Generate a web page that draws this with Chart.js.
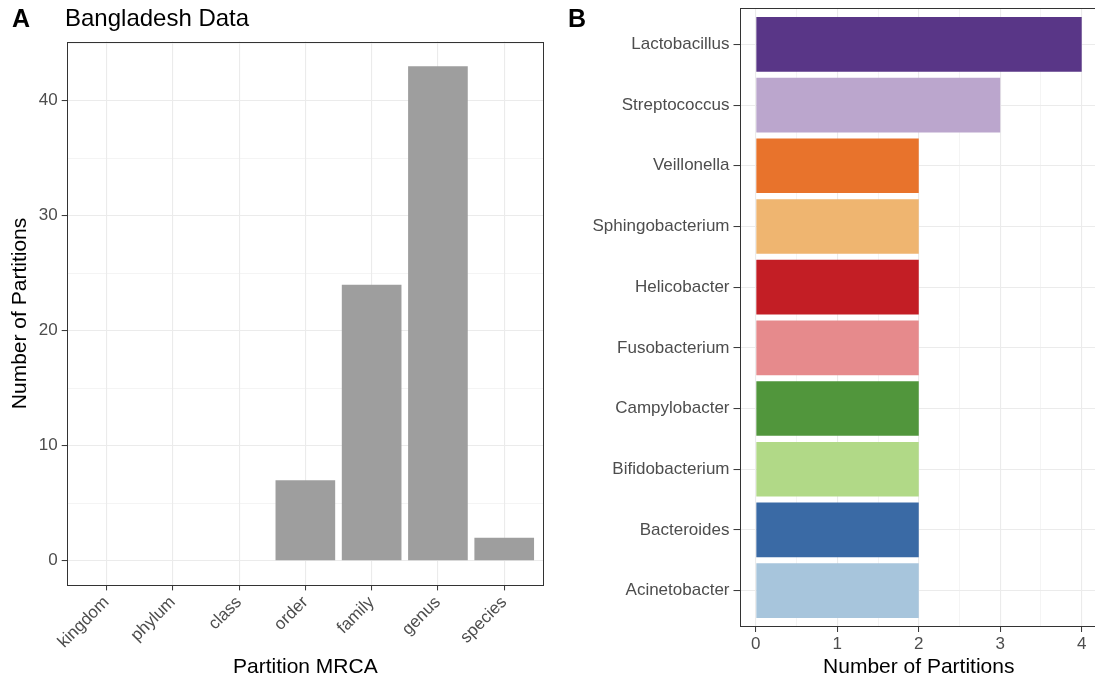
<!DOCTYPE html>
<html>
<head>
<meta charset="utf-8">
<script src="https://cdn.jsdelivr.net/npm/chart.js@4.4.1/dist/chart.umd.min.js"></script>
<style>
  html, body { margin: 0; padding: 0; background: #fff; overflow: hidden; width: 1095px; height: 681px; }
  .panel { position: absolute; top: 0; height: 681px; }
  #panelA { left: 0; width: 560px; }
  #panelB { left: 560px; width: 545px; }
  canvas { display: block; }
</style>
</head>
<body>
<div class="panel" id="panelA"><canvas id="chartA" width="560" height="681"></canvas></div>
<div class="panel" id="panelB"><canvas id="chartB" width="545" height="681"></canvas></div>
<script>
// Panel A: partitions by taxonomic rank of their MRCA
const mrcaLevels = ['kingdom', 'phylum', 'class', 'order', 'family', 'genus', 'species'];
const mrcaCounts = [0, 0, 0, 7, 24, 43, 2];
const countTicksA = [0, 10, 20, 30, 40];
const countMinorA = [5, 15, 25, 35, 45];

// Panel B: partitions per genus
const genera = ['Lactobacillus', 'Streptococcus', 'Veillonella', 'Sphingobacterium', 'Helicobacter',
                'Fusobacterium', 'Campylobacter', 'Bifidobacterium', 'Bacteroides', 'Acinetobacter'];
const genusCounts = [4, 3, 2, 2, 2, 2, 2, 2, 2, 2];
const genusColors = ['#593687', '#bba6cd', '#e8732c', '#efb570', '#c31e25',
                     '#e68a8c', '#51963c', '#b1d987', '#3a6aa5', '#a7c5dc'];
const countTicksB = [0, 1, 2, 3, 4];
const countMinorB = [0.5, 1.5, 2.5, 3.5];

const FONT = "'Liberation Sans', Arial, Helvetica, sans-serif";
Chart.defaults.font.family = FONT;
Chart.defaults.color = '#4d4d4d';

const GRID = '#ebebeb';
const TICK = '#333333';

// Fix an axis box to a set size and drop the label overhang padding
const fixWidth = w => s => { s.width = w; s.paddingTop = 0; s.paddingBottom = 0; s.paddingLeft = 0; s.paddingRight = 0; };
const fixHeight = h => s => { s.height = h; s.paddingTop = 0; s.paddingBottom = 0; s.paddingLeft = 0; s.paddingRight = 0; };

// Full rectangle around the plotting panel, drawn over the bars
const panelFrame = {
  id: 'panelFrame',
  afterDatasetsDraw(chart) {
    const { ctx, chartArea: a } = chart;
    ctx.save();
    ctx.strokeStyle = TICK;
    ctx.lineWidth = 1;
    ctx.strokeRect(Math.round(a.left) + 0.5, Math.round(a.top) + 0.5,
                   Math.round(a.right - a.left) - 1, Math.round(a.bottom - a.top) - 1);
    ctx.restore();
  }
};

// Panel letter and optional heading in the top-left corner
const panelLabel = {
  id: 'panelLabel',
  afterDraw(chart, args, opts) {
    const { ctx } = chart;
    ctx.save();
    ctx.fillStyle = '#000';
    ctx.textBaseline = 'alphabetic';
    ctx.textAlign = 'left';
    ctx.font = 'bold 25px ' + FONT;
    ctx.fillText(opts.letter, opts.x, 27);
    if (opts.title) {
      ctx.font = '24px ' + FONT;
      ctx.fillText(opts.title, opts.titleX, 26);
    }
    ctx.restore();
  }
};

const sorted = arr => arr.slice().sort((a, b) => a - b);

new Chart(document.getElementById('chartA'), {
  type: 'bar',
  data: {
    datasets: [{
      data: mrcaCounts.map((v, i) => ({ x: i, y: v })),
      backgroundColor: '#9e9e9e',
      borderWidth: 0,
      barPercentage: 0.9,
      categoryPercentage: 1
    }]
  },
  options: {
    responsive: false,
    animation: false,
    events: [],
    layout: { padding: { left: 0, right: 16, top: 41.5, bottom: 0 } },
    plugins: {
      legend: { display: false },
      tooltip: { enabled: false },
      panelLabel: { letter: 'A', x: 12, title: 'Bangladesh Data', titleX: 65 }
    },
    scales: {
      x: {
        type: 'linear', min: -0.6, max: 6.6, offset: false,
        afterBuildTicks: s => { s.ticks = mrcaLevels.map((_, i) => ({ value: i })); },
        afterFit: fixHeight(95.6),
        ticks: {
          autoSkip: false, maxRotation: 45, minRotation: 45, padding: 2,
          font: { size: 17 }, color: '#4d4d4d',
          callback: v => mrcaLevels[v]
        },
        grid: { offset: false, color: GRID, lineWidth: 1.1, tickColor: TICK, tickLength: 5, tickWidth: 1 },
        border: { display: false },
        title: { display: true, text: 'Partition MRCA', color: '#000', font: { size: 21 }, padding: { top: 0, bottom: 1 } }
      },
      y: {
        type: 'linear', min: -2.15, max: 45.15,
        afterBuildTicks: s => { s.ticks = sorted(countTicksA.concat(countMinorA)).map(v => ({ value: v })); },
        afterFit: fixWidth(66.7),
        ticks: {
          autoSkip: false, padding: 4, font: { size: 17 }, color: '#4d4d4d',
          callback: v => countTicksA.includes(v) ? String(v) : ''
        },
        grid: {
          color: GRID,
          lineWidth: c => countTicksA.includes(c.tick.value) ? 1.1 : 0.55,
          tickColor: c => countTicksA.includes(c.tick.value) ? TICK : 'rgba(0,0,0,0)',
          tickLength: 5, tickWidth: 1
        },
        border: { display: false },
        title: { display: true, text: 'Number of Partitions', color: '#000', font: { size: 21 }, padding: { top: 8, bottom: 0 } }
      }
    }
  },
  plugins: [panelFrame, panelLabel]
});

new Chart(document.getElementById('chartB'), {
  type: 'bar',
  data: {
    datasets: [{
      data: genusCounts.map((v, i) => ({ x: v, y: i })),
      backgroundColor: genusColors,
      borderWidth: 0,
      barPercentage: 0.9,
      categoryPercentage: 1
    }]
  },
  options: {
    indexAxis: 'y',
    responsive: false,
    animation: false,
    events: [],
    layout: { padding: { left: 0, right: 7, top: 8, bottom: 0 } },
    plugins: {
      legend: { display: false },
      tooltip: { enabled: false },
      panelLabel: { letter: 'B', x: 8 }
    },
    scales: {
      y: {
        type: 'linear', min: -0.6, max: 9.6, reverse: true, offset: false,
        afterBuildTicks: s => { s.ticks = genera.map((_, i) => ({ value: i })); },
        afterFit: fixWidth(179.5),
        ticks: {
          autoSkip: false, padding: 4, font: { size: 17 }, color: '#4d4d4d',
          callback: v => genera[v]
        },
        grid: { offset: false, color: GRID, lineWidth: 1.1, tickColor: TICK, tickLength: 6, tickWidth: 1 },
        border: { display: false }
      },
      x: {
        type: 'linear', min: -0.2, max: 4.2,
        afterBuildTicks: s => { s.ticks = sorted(countTicksB.concat(countMinorB)).map(v => ({ value: v })); },
        afterFit: fixHeight(54),
        ticks: {
          autoSkip: false, maxRotation: 0, padding: 2, font: { size: 17 }, color: '#4d4d4d',
          callback: v => countTicksB.includes(v) ? String(v) : ''
        },
        grid: {
          color: GRID,
          lineWidth: c => countTicksB.includes(c.tick.value) ? 1.1 : 0.55,
          tickColor: c => countTicksB.includes(c.tick.value) ? TICK : 'rgba(0,0,0,0)',
          tickLength: 5, tickWidth: 1
        },
        border: { display: false },
        title: { display: true, text: 'Number of Partitions', color: '#000', font: { size: 21 }, padding: { top: 0, bottom: 1 } }
      }
    }
  },
  plugins: [panelFrame, panelLabel]
});
</script>
</body>
</html>
